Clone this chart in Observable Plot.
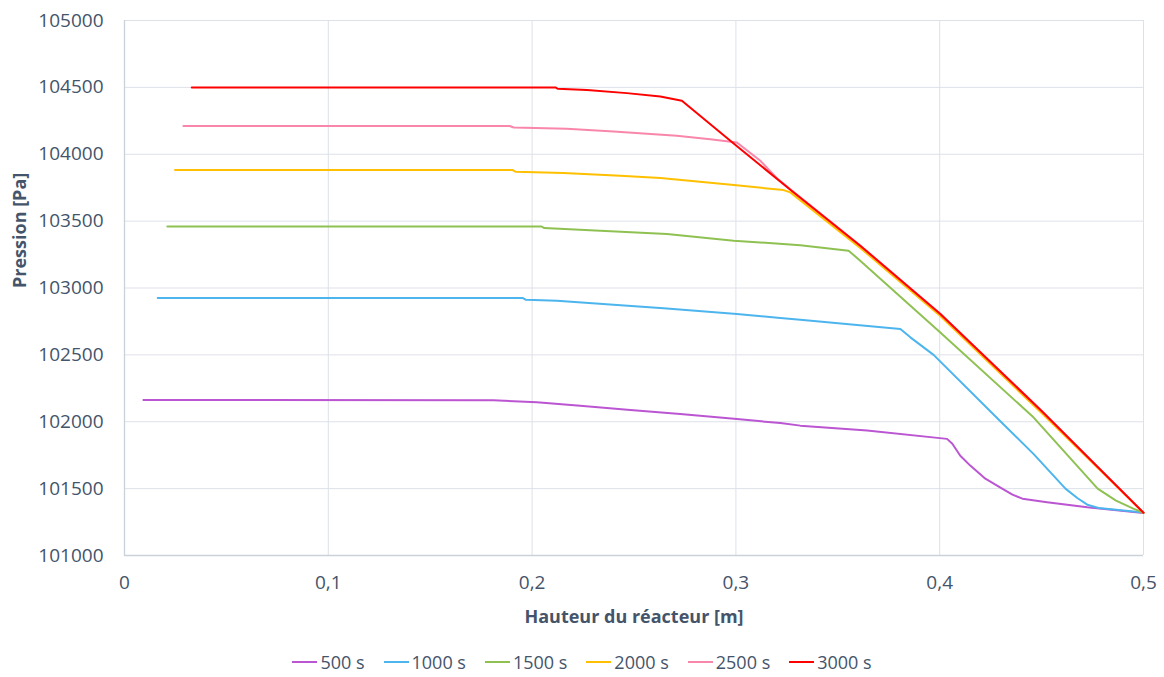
<!DOCTYPE html>
<html>
<head>
<meta charset="utf-8">
<script src="https://cdn.jsdelivr.net/npm/d3@7"></script>
<script src="https://cdn.jsdelivr.net/npm/@observablehq/plot@0.6"></script>
<style>
  body { margin: 0; background: #fff; font-family: "Open Sans", sans-serif; }
  #chart { width: 1164px; }
  #legend { display: flex; justify-content: center; align-items: center; height: 44px; gap: 19px; padding-left: 0px;
            font-family: "Open Sans", sans-serif; font-size: 18px; color: #44546a; }
  .item { display: flex; align-items: center; }
  .sw { width: 25px; height: 2px; margin-right: 3px; }
</style>
</head>
<body>
<div id="chart"></div>
<div id="legend"></div>
<script>
// Series labels and colours
const seriesNames = ["500 s", "1000 s", "1500 s", "2000 s", "2500 s", "3000 s"];
const seriesColors = ["#bb55d2", "#4db5ee", "#8fc152", "#ffc000", "#f987ab", "#ff0000"];

// Hauteur du réacteur [m] / Pression [Pa] per series
const h500 = [0.0093, 0.181, 0.2023, 0.2236, 0.2482, 0.2727, 0.3005, 0.3218, 0.3316, 0.3644, 0.4036, 0.4062, 0.4101, 0.415, 0.4224, 0.4298, 0.4357, 0.4406, 0.4527, 0.4724, 0.5];
const p500 = [102163, 102160, 102145, 102120, 102088, 102058, 102020, 101990, 101971, 101934, 101872, 101836, 101746, 101672, 101574, 101507, 101455, 101425, 101398, 101360, 101318];

const h1000 = [0.0163, 0.1955, 0.197, 0.2122, 0.24, 0.2645, 0.3005, 0.3218, 0.3316, 0.3807, 0.3856, 0.397, 0.43, 0.446, 0.4617, 0.4675, 0.4724, 0.478, 0.5];
const p1000 = [102925, 102925, 102912, 102905, 102875, 102848, 102806, 102776, 102763, 102694, 102631, 102500, 102000, 101760, 101500, 101430, 101380, 101355, 101322];

const h1500 = [0.021, 0.2045, 0.206, 0.2334, 0.2662, 0.2989, 0.3316, 0.3553, 0.361, 0.4003, 0.446, 0.4775, 0.4865, 0.495, 0.5];
const p1500 = [103460, 103460, 103448, 103428, 103403, 103354, 103320, 103279, 103204, 102668, 102033, 101500, 101410, 101350, 101320];

const h2000 = [0.0248, 0.1905, 0.192, 0.2154, 0.2432, 0.263, 0.299, 0.3234, 0.3267, 0.361, 0.4003, 0.45, 0.5];
const p2000 = [103882, 103882, 103869, 103860, 103839, 103822, 103770, 103732, 103715, 103300, 102790, 102065, 101320];

const h2500 = [0.0289, 0.189, 0.191, 0.217, 0.24, 0.271, 0.2874, 0.3005, 0.312, 0.32, 0.3267, 0.361, 0.4003, 0.45, 0.5];
const p2500 = [104211, 104211, 104200, 104190, 104170, 104138, 104113, 104088, 103951, 103822, 103738, 103318, 102808, 102082, 101320];

const h3000 = [0.033, 0.2115, 0.2125, 0.2269, 0.2465, 0.2629, 0.2735, 0.2989, 0.3267, 0.361, 0.4003, 0.45, 0.5];
const p3000 = [104500, 104500, 104490, 104480, 104457, 104432, 104400, 104080, 103735, 103316, 102806, 102080, 101320];

const xTicks = [0, 0.1, 0.2, 0.3, 0.4, 0.5];
const yTicks = [101000, 101500, 102000, 102500, 103000, 103500, 104000, 104500, 105000];

const allH = [h500, h1000, h1500, h2000, h2500, h3000];
const allP = [p500, p1000, p1500, p2000, p2500, p3000];
const rows = [];
seriesNames.forEach((s, i) => allH[i].forEach((h, j) => rows.push({series: s, h, p: allP[i][j]})));

const txt = "#44546a";
const chart = Plot.plot({
  width: 1164,
  height: 640,
  marginLeft: 124,
  marginRight: 21,
  marginTop: 20,
  marginBottom: 85,
  style: {fontFamily: "Open Sans, sans-serif", fontSize: "19px", color: txt, background: "#fff"},
  x: {domain: [0, 0.5], ticks: xTicks},
  y: {domain: [101000, 105000], ticks: yTicks},
  color: {domain: seriesNames, range: seriesColors},
  marks: [
    Plot.gridX(xTicks.slice(1), {stroke: "#dde1e8", strokeOpacity: 1, strokeWidth: 1}),
    Plot.gridY(yTicks.slice(1), {stroke: "#dde1e8", strokeOpacity: 1, strokeWidth: 1}),
    Plot.ruleX([0], {stroke: "#cbd1da", strokeWidth: 1.3}),
    Plot.ruleY([101000], {stroke: "#cbd1da", strokeWidth: 1.3}),
    Plot.axisX(xTicks, {tickSize: 0, tickPadding: 20, label: null, fill: txt,
      tickFormat: d => String(d).replace(".", ",")}),
    Plot.axisY(yTicks, {tickSize: 0, tickPadding: 21, label: null, fill: txt, tickFormat: d => String(d)}),
    Plot.line(rows, {x: "h", y: "p", z: "series", stroke: "series", strokeWidth: 2}),
    Plot.text(["Hauteur du réacteur [m]"], {frameAnchor: "bottom", dy: 62, text: d => d, fontWeight: "bold",
      fontSize: 18, fill: txt, lineAnchor: "middle"}),
    Plot.text(["Pression [Pa]"], {frameAnchor: "left", dx: -104, rotate: -90, text: d => d, fontWeight: "bold",
      fontSize: 18, fill: txt, lineAnchor: "middle"})
  ]
});
document.getElementById("chart").appendChild(chart);

const legend = document.getElementById("legend");
seriesNames.forEach((s, i) => {
  const it = document.createElement("div");
  it.className = "item";
  const sw = document.createElement("span");
  sw.className = "sw";
  sw.style.background = seriesColors[i];
  const t = document.createElement("span");
  t.textContent = s;
  it.appendChild(sw); it.appendChild(t);
  legend.appendChild(it);
});
</script>
</body>
</html>
